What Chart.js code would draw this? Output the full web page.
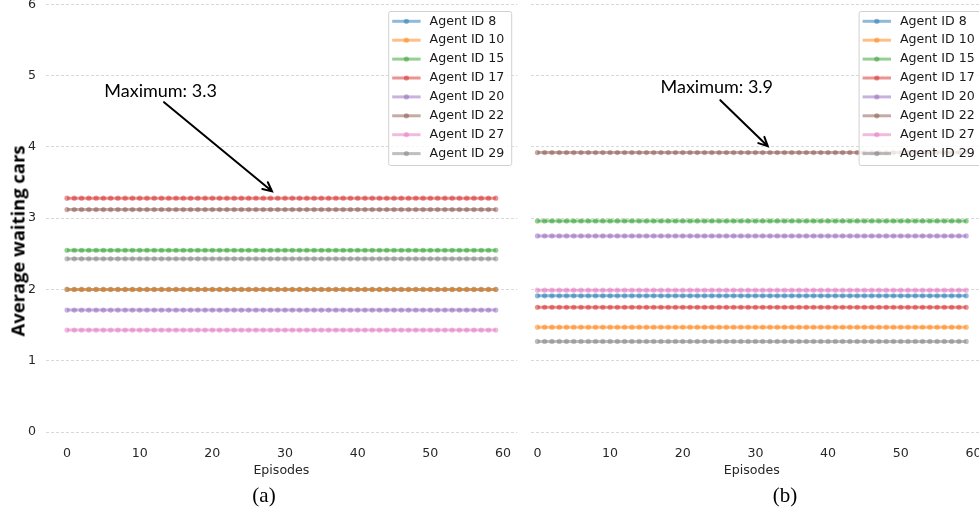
<!DOCTYPE html>
<html>
<head>
<meta charset="utf-8">
<script src="https://cdn.jsdelivr.net/npm/chart.js@4.4.1/dist/chart.umd.min.js"></script>
<style>
  body { margin: 0; width: 979px; height: 514px; overflow: hidden; background: #fff; position: relative; }
  canvas { position: absolute; top: 0; }
  #clipB { position: absolute; left: 531px; top: 0; width: 448px; height: 514px; overflow: hidden; }
  .ylab { position: absolute; left: 17px; top: 241px; transform: translate(-50%, -50%) rotate(-90deg);
          white-space: nowrap; font: bold 18.4px "Open Sans", sans-serif; color: #000; }
  .sub { position: absolute; top: 495px; transform: translate(-50%, -50%);
         font: 21px "Liberation Serif", serif; color: #000; }
</style>
</head>
<body>
<canvas id="chartA" width="525" height="514" style="left:0"></canvas>
<div id="clipB"><canvas id="chartB" width="500" height="514" style="left:-31px"></canvas></div>
<div class="ylab">Average waiting cars</div>
<div class="sub" style="left:264px">(a)</div>
<div class="sub" style="left:785px">(b)</div>

<script>
const episodes = Array.from({ length: 60 }, (_, i) => i);
const agentIds = [8, 10, 15, 17, 20, 22, 27, 29];
// average waiting cars per agent (flat over all episodes)
const waitingA = [2.00, 2.00, 2.55, 3.28, 1.71, 3.12, 1.43, 2.43];
const waitingB = [1.91, 1.47, 2.96, 1.75, 2.75, 3.92, 1.99, 1.27];
const xTicks = [0, 10, 20, 30, 40, 50, 60];
const yTicks = [0, 1, 2, 3, 4, 5, 6];
const colors = ['31,119,180', '255,127,14', '44,160,44', '214,39,40',
                '148,103,189', '140,86,75', '227,119,194', '127,127,127'];

const tickFont = { family: 'DejaVu Sans', size: 12.6 };

function makeDatasets(values) {
    return agentIds.map((id, i) => ({
        label: 'Agent ID ' + id,
        data: episodes.map(e => ({ x: e, y: values[i] })),
        borderColor: 'rgba(' + colors[i] + ',0.5)',
        backgroundColor: 'rgba(' + colors[i] + ',0.5)',
        pointBackgroundColor: 'rgba(' + colors[i] + ',0.5)',
        borderWidth: 3,
        pointRadius: 2.6,
        pointBorderWidth: 0,
        order: agentIds.length - i
    }));
}

// legend in a framed box, upper right of the plot area
const boxLegend = {
    id: 'boxLegend',
    afterDraw(chart) {
        const ctx = chart.ctx, area = chart.chartArea;
        const w = 123, h = 154;
        const left = area.right - 6 - w, top = area.top + 6.7;
        ctx.save();
        ctx.beginPath();
        ctx.roundRect(left + 0.5, top + 0.5, w, h, 2);
        ctx.fillStyle = 'rgba(255,255,255,0.8)';
        ctx.fill();
        ctx.strokeStyle = '#d0d0d0';
        ctx.lineWidth = 1;
        ctx.stroke();
        ctx.font = '12.6px "DejaVu Sans"';
        ctx.textBaseline = 'middle';
        chart.data.datasets.forEach((ds, i) => {
            const y = top + 10.3 + i * 18.9;
            ctx.strokeStyle = ds.borderColor;
            ctx.lineWidth = ds.borderWidth;
            ctx.beginPath();
            ctx.moveTo(left + 4, y);
            ctx.lineTo(left + 32.4, y);
            ctx.stroke();
            ctx.fillStyle = ds.pointBackgroundColor;
            ctx.beginPath();
            ctx.arc(left + 18.2, y, ds.pointRadius, 0, Math.PI * 2);
            ctx.fill();
            ctx.fillStyle = '#1a1a1a';
            ctx.fillText(ds.label, left + 41.4, y);
        });
        ctx.restore();
    }
};

// "Maximum" note with an arrow, positions in data units
const maxNote = {
    id: 'maxNote',
    afterDatasetsDraw(chart, args, opts) {
        const xs = chart.scales.x, ys = chart.scales.y, ctx = chart.ctx;
        const tx = xs.getPixelForValue(opts.textX), ty = ys.getPixelForValue(opts.textY);
        const x0 = xs.getPixelForValue(opts.fromX), y0 = ys.getPixelForValue(opts.fromY);
        const x1 = xs.getPixelForValue(opts.toX), y1 = ys.getPixelForValue(opts.toY);
        ctx.save();
        ctx.font = '18px Lato';
        ctx.fillStyle = '#000';
        ctx.textAlign = 'center';
        ctx.textBaseline = 'alphabetic';
        ctx.fillText(opts.text, tx, ty);
        ctx.strokeStyle = '#000';
        ctx.lineWidth = 2;
        ctx.lineCap = 'round';
        ctx.beginPath();
        ctx.moveTo(x0, y0);
        ctx.lineTo(x1, y1);
        const a = Math.atan2(y1 - y0, x1 - x0), hl = 10;
        ctx.moveTo(x1 - hl * Math.cos(a - 0.45), y1 - hl * Math.sin(a - 0.45));
        ctx.lineTo(x1, y1);
        ctx.lineTo(x1 - hl * Math.cos(a + 0.45), y1 - hl * Math.sin(a + 0.45));
        ctx.stroke();
        ctx.restore();
    }
};

function makeChart(id, values, note, showY, pad) {
    return new Chart(document.getElementById(id), {
        type: 'line',
        data: { datasets: makeDatasets(values) },
        options: {
            responsive: false,
            animation: false,
            layout: { padding: pad },
            plugins: {
                legend: { display: false },
                tooltip: { enabled: false },
                maxNote: note
            },
            scales: {
                x: {
                    type: 'linear',
                    min: -2.95,
                    max: 61.95,
                    afterBuildTicks: s => { s.ticks = xTicks.map(v => ({ value: v })); },
                    afterFit: s => { s.height = 82; s.paddingLeft = 0; s.paddingRight = 0; },
                    grid: { display: false, drawTicks: false },
                    border: { display: false },
                    ticks: { font: tickFont, color: '#262626', padding: 14.5, maxRotation: 0 },
                    title: { display: true, text: 'Episodes', font: tickFont, color: '#262626',
                             padding: { top: 0, bottom: 35.6 } }
                },
                y: {
                    min: 0,
                    max: 6,
                    afterBuildTicks: s => { s.ticks = yTicks.map(v => ({ value: v })); },
                    afterFit: s => { s.width = showY ? 45.6 : 0; s.paddingTop = 0; s.paddingBottom = 0; },
                    grid: { color: '#cfcfcf', lineWidth: 0.8, drawTicks: false },
                    border: { display: false, dash: [3, 2] },
                    ticks: { display: showY, font: tickFont, color: '#262626', padding: 9.5 }
                }
            }
        },
        plugins: [maxNote, boxLegend]
    });
}

makeChart('chartA', waitingA,
    { text: 'Maximum: 3.3', textX: 12.87, textY: 4.70, fromX: 13.35, fromY: 4.627, toX: 28.21, toY: 3.376 },
    true, { top: 4.3, right: 7.8, bottom: 0, left: 0 });

makeChart('chartB', waitingB,
    { text: 'Maximum: 3.9', textX: 24.68, textY: 4.749, fromX: 25.17, fromY: 4.655, toX: 31.70, toY: 4.009 },
    false, { top: 4.3, right: 12.4, bottom: 0, left: 16 });
</script>
</body>
</html>
